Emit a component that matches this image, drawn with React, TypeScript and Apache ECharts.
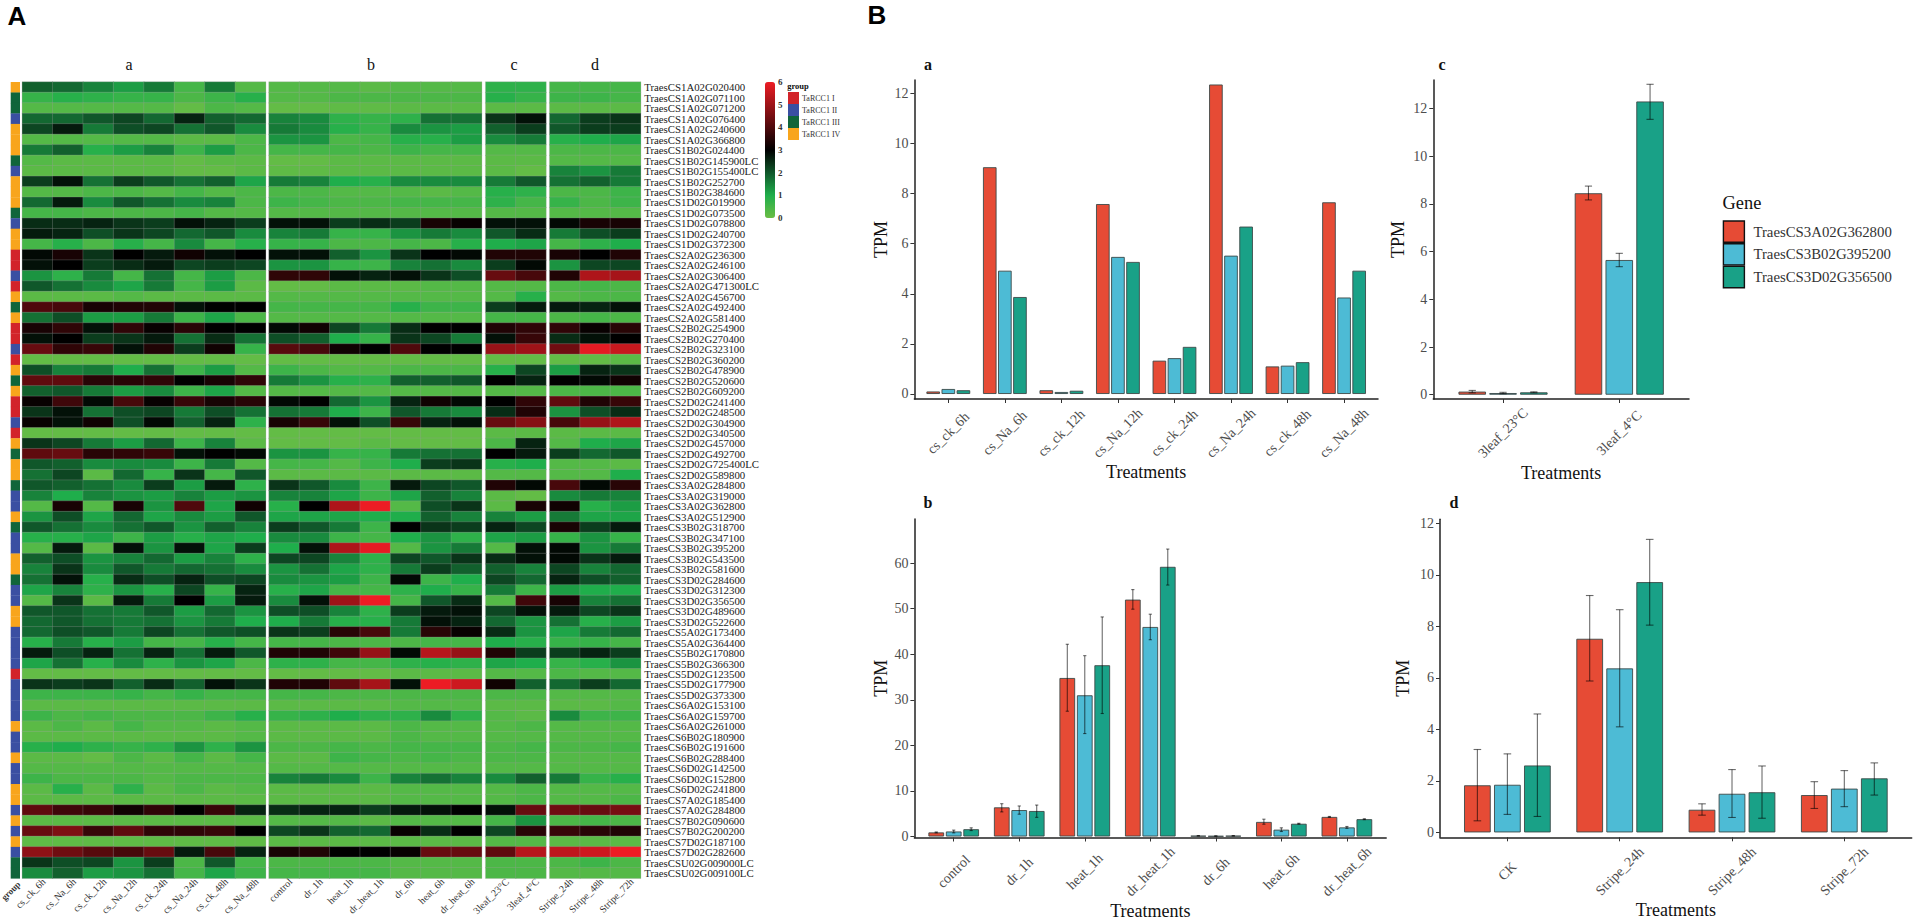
import React, { useEffect, useRef } from "react";
import * as echarts from "echarts";

const SERIF = "Liberation Serif";

const geneRows = [
  "TraesCS1A02G020400","TraesCS1A02G071100","TraesCS1A02G071200","TraesCS1A02G076400","TraesCS1A02G240600","TraesCS1A02G366800",
  "TraesCS1B02G024400","TraesCS1B02G145900LC","TraesCS1B02G155400LC","TraesCS1B02G252700","TraesCS1B02G384600","TraesCS1D02G019900",
  "TraesCS1D02G073500","TraesCS1D02G078800","TraesCS1D02G240700","TraesCS1D02G372300","TraesCS2A02G236300","TraesCS2A02G246100",
  "TraesCS2A02G306400","TraesCS2A02G471300LC","TraesCS2A02G456700","TraesCS2A02G492400","TraesCS2A02G581400","TraesCS2B02G254900",
  "TraesCS2B02G270400","TraesCS2B02G323100","TraesCS2B02G360200","TraesCS2B02G478900","TraesCS2B02G520600","TraesCS2B02G609200",
  "TraesCS2D02G241400","TraesCS2D02G248500","TraesCS2D02G304900","TraesCS2D02G340500","TraesCS2D02G457000","TraesCS2D02G492700",
  "TraesCS2D02G725400LC","TraesCS2D02G589800","TraesCS3A02G284800","TraesCS3A02G319000","TraesCS3A02G362800","TraesCS3A02G512900",
  "TraesCS3B02G318700","TraesCS3B02G347100","TraesCS3B02G395200","TraesCS3B02G543500","TraesCS3B02G581600","TraesCS3D02G284600",
  "TraesCS3D02G312300","TraesCS3D02G356500","TraesCS3D02G489600","TraesCS3D02G522600","TraesCS5A02G173400","TraesCS5A02G364400",
  "TraesCS5B02G170800","TraesCS5B02G366300","TraesCS5D02G123500","TraesCS5D02G177900","TraesCS5D02G373300","TraesCS6A02G153100",
  "TraesCS6A02G159700","TraesCS6A02G261000","TraesCS6B02G180900","TraesCS6B02G191600","TraesCS6B02G288400","TraesCS6D02G142500",
  "TraesCS6D02G152800","TraesCS6D02G241800","TraesCS7A02G185400","TraesCS7A02G284800","TraesCS7B02G090600","TraesCS7B02G200200",
  "TraesCS7D02G187100","TraesCS7D02G282600","TraesCSU02G009000LC","TraesCSU02G009100LC",
];

const groupNames = ["TaRCC1 I", "TaRCC1 II", "TaRCC1 III", "TaRCC1 IV"];
const groupColors = ["#d2232a", "#3a4fa2", "#10653a", "#f8a51c"];
// 1..4 = TaRCC1 I..IV, one per row
const rowGroups = [
  4,3,3,2,4,4,4,3,2,4,4,4,3,2,4,4,1,1,2,1,4,3,4,1,1,2,1,4,3,4,1,1,2,1,4,3,4,4,
  3,2,2,4,3,2,2,4,4,3,2,2,4,4,2,2,2,2,1,2,2,2,2,4,2,2,4,2,2,4,4,2,4,2,4,2,3,3,
];

const heatColsA = ["cs_ck_6h","cs_Na_6h","cs_ck_12h","cs_Na_12h","cs_ck_24h","cs_Na_24h","cs_ck_48h","cs_Na_48h"];
const heatColsB = ["control","dr_1h","heat_1h","dr_heat_1h","dr_6h","heat_6h","dr_heat_6h"];
const heatColsC = ["3leaf_23°C","3leaf_4°C"];
const heatColsD = ["Stripe_24h","Stripe_48h","Stripe_72h"];

// rows x (8 a + 7 b + 2 c + 3 d) columns
const heatValues: number[][] = [
  [1.9,1.8,1.5,1.2,1.6,.5,1.6,.3, .3,.3,.3,.2,.3,.3,.3, .8,.8, .5,.5,.5],
  [.7,.9,.8,.7,.7,.4,.6,.9, .3,.3,.4,.4,.4,.4,.4, .9,.7, .6,.6,.5],
  [.3,.3,.3,.3,.3,.1,.4,.3, .1,.1,.15,.15,.2,.2,.2, .2,.2, .2,.2,.2],
  [1.8,1.8,2,2.2,1.8,2.6,1.9,1.8, 1.5,1.4,.8,.7,.8,1.7,1.7, 2.4,2.8, 1.8,2.3,2.4],
  [2.2,2.7,1.6,2.1,2.2,1.7,2,1.4, 1.6,1.4,.9,.7,1.4,1.3,1.2, 1.9,2.3, 2,2.3,2.3],
  [.3,.3,.3,.3,.3,.2,.2,.4, 1.3,1.3,.4,.5,.9,.9,1.2, 1.4,1.6, .9,1,1.1],
  [1.6,1.9,.9,1.2,1.5,.6,1.2,.4, .5,.5,.5,.4,.6,.5,.5, .3,.3, .4,.4,.4],
  [.3,.2,.2,.2,.2,.1,.2,.2, .1,.1,.2,.2,.2,.2,.2, .2,.2, .3,.3,.3],
  [.2,.2,.2,.2,.2,.1,.1,.2, .15,.15,.2,.2,.2,.2,.2, .2,.1, 1.5,1.3,1.6],
  [2.3,2.8,1.7,2.3,2,1.7,1.9,1.1, 1.6,1.5,1,.9,1.4,1.4,1.4, 1.6,2, 1.7,1.9,1.6],
  [.3,.3,.4,.4,.3,.5,.3,.4, .4,.4,.3,.3,.3,.2,.3, .9,.8, .4,.4,.6],
  [1.8,2.7,1.4,2,1.7,1.4,1.5,.4, .6,.5,.4,.4,.5,.5,.5, .8,.5, .7,.4,.6],
  [.5,.5,.4,.4,.4,.5,.3,.3, .3,.3,.3,.3,.3,.3,.3, .3,.3, .3,.3,.3],
  [2.5,2.5,2.6,2.4,2.3,2.8,2.6,2.3, 2.8,2.8,2.3,2.5,2.3,3.3,3.1, 2.8,2.8, 2.9,3.3,3.3],
  [2.7,2.6,2.1,2.4,2.2,1.8,2,1.4, 1.5,1.6,.7,.7,1.3,1.6,1.4, 2,2.5, 1.6,2.1,2.3],
  [.5,.9,.4,.9,.5,1.4,.5,.9, .7,.7,.4,.4,.5,.4,.9, 1,1.1, .5,.8,1],
  [2.9,3.3,2.4,3,2.7,3.2,2.8,3, 2.8,2.8,1.9,1.3,2.4,3,2.9, 3.4,3.4, 3.3,3,3.4],
  [2.8,3,2.3,2.5,2.7,2.2,2.3,2.2, 1.3,1.3,.7,.6,1.5,1.7,1.4, 2.3,2.9, 1.3,2.2,2.2],
  [1.3,.8,1.6,.5,1.7,.5,1.2,.4, 3.6,3.6,2.8,2.6,2.8,2.4,2.1, 4.3,3.9, 3.4,5.2,5.1],
  [2,1.7,1.4,1.1,1.6,.5,1.2,.2, .1,.1,.2,.2,.2,.3,.3, .3,.3, .4,.5,.4],
  [.2,.2,.2,.3,.2,.2,.2,.2, .3,.3,.3,.3,.3,.3,.3, .3,.9, .3,.4,.4],
  [4,3.9,3.3,3.4,3.4,2.8,3,3, .5,.5,.5,.5,.9,.6,.6, 2.3,2.7, 2.7,2.6,2.8],
  [1.7,2.1,1.2,1.2,1.6,.6,1.1,.4, .3,.3,.3,.3,.3,.3,.3, .5,.5, .4,.5,.4],
  [3.3,3.6,2.8,3.6,3.1,3.5,3,3, 2.9,3.2,2.2,1.6,2.5,3,3, 3.4,3.6, 3.6,3.1,3.5],
  [2.8,3,2.3,2.4,2.7,1.7,2.5,1.7, 2.1,1.9,1,.7,2.4,2.2,1.6, 2.8,3.7, 2.5,2.8,3],
  [4.3,3.6,3.7,2.8,3.4,2.3,3.2,.7, 4.1,3.9,3.2,3,4,3,3, 4.9,5, 4.4,5.9,5.5],
  [.1,.1,.1,.1,.1,.1,.1,.1, .1,.1,.1,.1,.1,.1,.1, .1,.1, .1,.1,.2],
  [2.1,1.5,1.6,1,1.7,.6,1.2,.3, .6,.4,.3,.3,.4,.4,.4, .9,2.2, 1.2,2.6,2.4],
  [4.2,4.2,3.5,3.5,3.6,3,3.3,3.6, 1.6,1.3,.9,.8,1.9,1.9,2, 3,2.6, 3,2.9,3.2],
  [1.9,2,1.6,1.2,1.4,.6,1.1,.3, .3,.3,.3,.3,.3,.3,.3, .3,.3, .4,.4,.4],
  [3.1,3.8,2.9,3.9,3.1,3.7,3.3,3.5, 2.9,3,1.8,1.3,2.6,3.2,2.9, 3,3.6, 4.2,3.4,3.7],
  [2.4,2.8,1.7,2.1,2.2,1.6,2.1,1.7, 1.7,1.6,1,.6,2,1.6,1.4, 2.5,3.4, 1.3,2.1,2.5],
  [3.1,2.8,3.2,2.1,2.9,1.9,2.6,.8, 3.3,3.7,2.8,2.1,3.7,2.6,2.8, 4.3,4.7, 3.9,4.9,5.2],
  [.1,.1,.1,.1,.1,.1,.1,.1, .1,.1,.1,.1,.1,.1,.1, .2,.2, .2,.2,.2],
  [2.4,2.2,1.6,1.2,1.8,.6,1.5,.2, .1,.1,.1,.2,.1,.1,.1, .4,2.6, .3,1,1.1],
  [4.2,4.3,3.5,3.6,3.7,2.8,3,2.9, 1.3,1.3,.7,.7,1.6,1.7,1.7, 3,2.7, 2.3,1.8,2],
  [2,1.9,1.4,1.4,1.4,.6,1.6,.3, .5,.5,.3,.6,1,2.3,2.4, .9,1, .3,.3,.2],
  [1.7,2.2,.2,1.8,.7,2.4,.5,2, .2,.2,.2,.2,.2,.2,.2, .3,.3, .3,.3,1],
  [2,1.9,1.7,1.4,2.3,1.2,2.7,.8, 2.4,2,1.4,.6,2.7,2.2,2, 3.4,2.9, 3.9,2.9,3.5],
  [1.5,1,1.5,1.3,1.2,1.5,1.2,1.3, 1.5,1.5,1.1,.6,1.1,1.9,1.5, .2,.1, 1.4,1.6,1.5],
  [.3,3.3,.3,3.3,1.3,4,1.1,3.2, .9,3,5.2,6,.3,2.1,2.4, .2,3.3, 3.2,.9,1.2],
  [1.3,2.1,1.1,1.8,1.1,1.4,1.2,2, 1.1,1.1,1.1,1,1,1.9,1.5, 1.5,1.2, 1.6,1.1,1.1],
  [2,1.7,1.4,1.7,2,1.3,1.9,1.5, 2.3,2,1.6,.6,3,2.4,2.3, 2.6,2.2, 3.3,2.3,2.7],
  [.9,.9,1.1,.6,1.2,.9,1.1,1, 1.4,1.4,.6,.5,1,1.3,.8, 1.1,1.2, .7,1.3,.7],
  [.3,2.7,.2,2.8,1.3,2.8,1.1,2.3, 1,2.8,5.2,5.9,.3,1.3,1.6, .3,2.8, 2.9,1.3,1.6],
  [1.9,2.1,1.3,1.5,1.8,1.2,1.5,.8, 2.2,2.2,1.5,.8,2.2,2,2.4, 2.5,2.8, 2.9,2.4,2.7],
  [1.5,2.4,1.4,2,1.6,1.8,1.7,1.4, 1.3,1.7,1.1,.8,1.6,2.3,1.9, 1.9,1.5, 2.2,1.5,1.8],
  [1.7,2.8,.9,2.5,2.1,2.6,2.1,2.2, 1.4,1.3,1.2,.6,2.9,.6,1, 2.2,1.8, 2.6,2.1,1.9],
  [1.1,1.5,.8,1.3,.9,2.2,.7,2.6, .9,1.1,.5,.5,.8,1,.7, 1.6,.6, 1.2,1,1],
  [.3,2.4,.2,2.7,1.6,3,1.2,2.7, 1.4,2.8,5,6,.5,2,2.5, .3,3.8, 3.3,1.5,1.7],
  [2,2,1.7,1.6,2,1.2,1.8,1.3, 2.1,2.1,1.5,.8,2.3,2.7,2.8, 2.2,2.8, 2.7,2.2,2.4],
  [1.8,2,1.7,1.6,1.7,1.3,1.6,1, 1,1.6,.9,.9,1.6,2.8,2.6, 1.8,1.3, 1.7,.9,1.2],
  [1.8,2.1,2,1.6,2.2,1.7,2,2.1, 2.4,2.3,3.5,3.9,1.6,3.5,3.1, 2.5,1.3, 1.1,1.6,1.8],
  [.9,1.6,.9,1.2,.5,.5,.9,.5, .5,.5,.4,.4,.4,.5,.5, 1,.9, .7,.7,.5],
  [2.7,2.1,2.6,1.7,2.6,1.7,2.7,2, 3.4,3.4,3.8,4.9,2.9,5.3,4.9, 3.4,2.3, 2.3,2.6,2.3],
  [1.1,1.7,.9,1.4,.8,1.3,1.1,.4, .8,.8,.5,.5,.8,.9,.8, 1.1,1, .7,.9,1.3],
  [.1,.1,.1,.1,.1,.1,.1,.1, .1,.1,.1,.1,.2,.2,.2, .3,.3, .4,.3,.3],
  [2.4,2.3,2.4,1.9,2.5,1.9,2.8,2.4, 3.4,3.4,4.2,5.1,2.8,6,5.6, 3.2,1.9, 1.8,2.3,1.8],
  [.6,.6,.6,.7,.5,.7,.5,.5, .5,.5,.4,.4,.4,.4,.4, .4,.4, .3,.3,.3],
  [.2,.2,.2,.2,.2,.2,.2,.2, .2,.2,.2,.2,.3,.3,.3, .2,.2, .2,.2,.3],
  [.6,.4,.5,.4,.4,.4,.6,.9, .7,.8,1,.8,.8,1.4,.8, .3,.2, 1.4,.6,.6],
  [.2,.4,.2,.5,.3,.3,.2,.3, .2,.2,.2,.2,.4,.3,.3, .3,.4, .3,.3,.3],
  [.2,.2,.2,.2,.2,.2,.2,.3, .2,.2,.2,.2,.4,.3,.3, .3,.3, .3,.3,.3],
  [.9,1,.8,.7,.8,1.3,.8,1.3, .4,.4,.5,.4,.5,.5,.5, .4,.5, .4,.4,.5],
  [.2,.2,.1,.4,.2,.5,.2,.5, .2,.2,.6,.5,.4,.5,.4, .4,.4, .3,.3,.3],
  [.3,.3,.3,.3,.3,.3,.3,.3, .3,.3,.3,.3,.3,.3,.3, .3,.3, .3,.3,.3],
  [.6,.4,.4,.4,.3,.4,.4,.4, 1.5,1.6,1.4,.6,1.5,1.7,1.5, 1.4,1.9, 1.6,.7,.9],
  [.2,.9,.2,.8,.2,.4,.2,.3, .2,.2,.2,.2,.3,.3,.3, .3,.4, .3,.3,.3],
  [.2,.2,.2,.2,.2,.2,.2,.2, .2,.2,.2,.2,.3,.3,.3, .3,.4, .3,.3,.4],
  [4.2,3.8,3.7,3.2,3.6,3,3.7,2.6, 2.5,2.6,2.6,2.3,2.7,2.8,3, 2.8,4.3, 4.4,4.3,4.5],
  [.2,.2,.2,.2,.2,.2,.2,.2, .3,.3,.3,.2,.3,.3,.3, .5,1.3, .4,.5,.4],
  [4.3,4.6,3.7,4.2,3.6,3.6,3.7,3, 2.2,2.4,1.9,1.8,3.1,2.5,3, 2.2,3.5, 3.7,3.5,3.4],
  [.15,.15,.15,.15,.15,.15,.15,.15, .2,.2,.2,.2,.2,.2,.2, .3,.3, .2,.2,.2],
  [4.8,4.4,4.1,3.9,4.3,2.7,3.9,2.6, 3.3,3.4,3,3,3.1,4.3,4.3, 4.2,5.3, 5.4,5.6,6],
  [2.4,2.1,2.2,1.3,2.3,.4,2,.5, .4,.4,.4,.4,.3,.3,.3, .4,.4, .4,.6,.4],
  [1.4,1.9,1.2,1.3,1.7,.5,1.1,.6, .5,.5,.5,.5,.3,.3,.3, .4,.4, .3,.3,.3],
];

const colorStops = ["#6abd45", "#1fae4b", "#10572a", "#000000", "#4f090c", "#9e1318", "#ed1c24"];

const genes = ["TraesCS3A02G362800", "TraesCS3B02G395200", "TraesCS3D02G356500"];
const geneColors = ["#E64B35", "#4DBBD5", "#19A187"];

const catsA = ["cs_ck_6h","cs_Na_6h","cs_ck_12h","cs_Na_12h","cs_ck_24h","cs_Na_24h","cs_ck_48h","cs_Na_48h"];
const valuesA = [
  [0.1, 9.05, 0.15, 7.58, 1.33, 12.35, 1.1, 7.65],
  [0.2, 4.92, 0.08, 5.47, 1.43, 5.52, 1.13, 3.85],
  [0.15, 3.87, 0.13, 5.27, 1.88, 6.68, 1.27, 4.92],
];

const catsB = ["control","dr_1h","heat_1h","dr_heat_1h","dr_6h","heat_6h","dr_heat_6h"];
const valuesB = [
  [0.9, 6.4, 34.8, 52, 0.15, 3.2, 4.3],
  [1.1, 5.8, 31, 46, 0.1, 1.5, 2],
  [1.6, 5.6, 37.6, 59.2, 0.15, 2.8, 3.8],
];
const lowB = [
  [0.8, 5.4, 27.5, 49.9, 0.1, 2.7, 4.2],
  [0.8, 4.9, 22.6, 43.2, 0.05, 1.1, 1.8],
  [1.3, 4.2, 27, 55.2, 0.1, 2.7, 3.7],
];
const highB = [
  [1.0, 7.2, 42.2, 54.2, 0.2, 3.8, 4.4],
  [1.4, 6.7, 39.7, 48.8, 0.15, 1.9, 2.2],
  [1.9, 6.9, 48.2, 63.1, 0.2, 2.9, 3.9],
];

const catsC = ["3leaf_23°C", "3leaf_4°C"];
const valuesC = [
  [0.13, 8.45],
  [0.07, 5.65],
  [0.1, 12.3],
];
const lowC = [
  [0.08, 8.17],
  [0.04, 5.37],
  [0.08, 11.55],
];
const highC = [
  [0.18, 8.75],
  [0.1, 5.93],
  [0.12, 13.02],
];

const catsD = ["CK", "Stripe_24h", "Stripe_48h", "Stripe_72h"];
const valuesD = [
  [1.83, 7.52, 0.88, 1.45],
  [1.85, 6.37, 1.5, 1.7],
  [2.6, 9.72, 1.56, 2.1],
];
const lowD = [
  [0.45, 5.88, 0.67, 0.93],
  [0.7, 4.1, 0.58, 1.0],
  [0.62, 8.05, 0.55, 1.45],
];
const highD = [
  [3.22, 9.2, 1.11, 1.97],
  [3.05, 8.65, 2.44, 2.4],
  [4.6, 11.38, 2.58, 2.7],
];

const colorbarTicks = [0, 1, 2, 3, 4, 5, 6];

function buildOption() {
  const grids: any[] = [];
  const xAxes: any[] = [];
  const yAxes: any[] = [];
  const series: any[] = [];

  const heatTop = 82;
  const heatHeight = 796.3;
  const rect = (l: number, r: number, t: number, h: number) => ({
    left: l, top: t, width: r - l, height: h, containLabel: false, outerBoundsMode: "none",
  });

  const heatLabel = {
    rotate: 45, interval: 0, margin: 8, padding: [0, -9, 0, 0], fontFamily: SERIF, fontSize: 10, color: "#333",
  };

  const addHeatAxes = (l: number, r: number, cats: string[], showRows: boolean) => {
    const idx = grids.length;
    grids.push(rect(l, r, heatTop, heatHeight));
    xAxes.push({
      type: "category", gridIndex: idx, data: cats, position: "bottom",
      axisLine: { show: false }, axisTick: { show: false }, splitLine: { show: false },
      axisLabel: heatLabel,
    });
    yAxes.push({
      type: "category", gridIndex: idx, data: geneRows, inverse: true, position: "right",
      axisLine: { show: false }, axisTick: { show: false }, splitLine: { show: false },
      axisLabel: { show: showRows, interval: 0, margin: 3.5, fontFamily: SERIF, fontSize: 10.8, color: "#222" },
    });
    return idx;
  };

  // group column: one coloured strip per row
  const gGroup = addHeatAxes(10.7, 20, ["group"], false);
  xAxes[gGroup] = {
    type: "value", gridIndex: gGroup, position: "bottom", min: -0.5, max: 0.5,
    axisLine: { show: false, onZero: false }, axisTick: { show: false }, splitLine: { show: false },
    axisLabel: {
      ...heatLabel, fontSize: 9, fontWeight: "bold", customValues: [0],
      margin: 8, padding: [0, -5, 0, 0], formatter: () => "group",
    },
  };
  const groupSeriesIndex = series.length;
  series.push({
    type: "custom", xAxisIndex: gGroup, yAxisIndex: gGroup, encode: { x: 0, y: 1 },
    data: rowGroups.map((g, r) => [0, r, g]),
    renderItem: (_: any, api: any) => {
      const r = api.value(1);
      const a = api.coord([-0.5, r]);
      const b = api.coord([0.5, r]);
      const h = api.size([0, 1])[1];
      return {
        type: "rect",
        shape: { x: a[0], y: a[1] - h / 2, width: b[0] - a[0], height: h + 0.3 },
        style: { fill: api.visual("color") },
      };
    },
  });

  const panels: [number, number, string[], number, boolean][] = [
    [22.3, 265.7, heatColsA, 0, false],
    [269, 481.7, heatColsB, 8, false],
    [485.7, 546, heatColsC, 15, false],
    [549.7, 640.7, heatColsD, 17, true],
  ];
  const heatSeriesIndex: number[] = [];
  panels.forEach(([l, r, cats, offset, showRows]) => {
    const g = addHeatAxes(l, r, cats, showRows);
    const data: number[][] = [];
    heatValues.forEach((row, ri) => cats.forEach((_, ci) => data.push([ci, ri, row[offset + ci]])));
    heatSeriesIndex.push(series.length);
    series.push({
      type: "heatmap", xAxisIndex: g, yAxisIndex: g, progressive: 0, data,
      itemStyle: { borderColor: "rgba(160,160,160,0.55)", borderWidth: 0.5 },
    });
  });

  // colourbar axis
  const gBar = grids.length;
  grids.push(rect(765, 775, 82, 136));
  xAxes.push({ type: "value", gridIndex: gBar, show: false, min: 0, max: 1 });
  yAxes.push({
    type: "value", gridIndex: gBar, position: "right", min: 0, max: 6, interval: 1,
    axisLine: { show: false }, axisTick: { show: false }, splitLine: { show: false },
    axisLabel: {
      margin: 3, fontFamily: SERIF, fontSize: 9, color: "#333", fontWeight: "bold",
      customValues: colorbarTicks,
    },
  });

  const addBars = (cfg: {
    l: number; r: number; t: number; b: number; cats: string[]; values: number[][];
    low?: number[][]; high?: number[][]; ymin: number; ymax: number; ticks: number[];
    barWidth: number; step: number; cap: number; nameGap: number;
  }) => {
    const idx = grids.length;
    grids.push(rect(cfg.l, cfg.r, cfg.t, cfg.b - cfg.t));
    const positions = cfg.cats.map((_, i) => i);
    xAxes.push({
      type: "value", gridIndex: idx, position: "bottom",
      min: -0.6, max: cfg.cats.length - 1 + 0.6,
      name: "Treatments", nameLocation: "middle", nameGap: 63,
      nameTextStyle: { fontFamily: SERIF, fontSize: 18, color: "#111" },
      axisLine: { onZero: false, lineStyle: { color: "#222", width: 1.5 } },
      axisTick: { length: 4, lineStyle: { color: "#333", width: 1 }, customValues: positions },
      splitLine: { show: false },
      axisLabel: {
        customValues: positions, rotate: 45, align: "center", verticalAlign: "middle", margin: 34,
        fontFamily: SERIF, fontSize: 14, color: "#4d4d4d",
        formatter: (v: number) => cfg.cats[Math.round(v)],
      },
    });
    yAxes.push({
      type: "value", gridIndex: idx, position: "left", min: cfg.ymin, max: cfg.ymax,
      name: "TPM", nameLocation: "middle", nameGap: cfg.nameGap,
      nameTextStyle: { fontFamily: SERIF, fontSize: 18, color: "#111" },
      axisLine: { show: true, onZero: false, lineStyle: { color: "#222", width: 1.5 } },
      axisTick: { show: true, length: 4, lineStyle: { color: "#333", width: 1 }, customValues: cfg.ticks },
      splitLine: { show: false },
      axisLabel: { customValues: cfg.ticks, margin: 6, fontFamily: SERIF, fontSize: 14, color: "#4d4d4d" },
    });
    const gap = ((cfg.step - cfg.barWidth) / cfg.barWidth) * 100 + "%";
    genes.forEach((name, g) => {
      series.push({
        type: "bar", name, xAxisIndex: idx, yAxisIndex: idx, barWidth: cfg.barWidth, barGap: gap,
        data: cfg.values[g].map((v, i) => [i, v]),
        itemStyle: { color: geneColors[g], borderColor: "#3c4a48", borderWidth: 0.9 },
      });
    });
    if (cfg.low && cfg.high) {
      genes.forEach((name, g) => {
        series.push({
          type: "custom", name: name + " error", xAxisIndex: idx, yAxisIndex: idx, z: 5,
          encode: { x: 0, y: [1, 2] },
          data: cfg.low![g].map((lo, i) => [i, lo, cfg.high![g][i]]),
          renderItem: (_: any, api: any) => {
            const i = api.value(0);
            const a = api.coord([i, api.value(1)]);
            const b = api.coord([i, api.value(2)]);
            const cx = a[0] + (g - 1) * cfg.step;
            const style = { stroke: "rgba(0,0,0,0.58)", lineWidth: 1.1, fill: "none" };
            const seg = (x1: number, y1: number, x2: number, y2: number) => ({
              type: "line", shape: { x1, y1, x2, y2 }, style,
            });
            return {
              type: "group",
              children: [
                seg(cx, a[1], cx, b[1]),
                seg(cx - cfg.cap, a[1], cx + cfg.cap, a[1]),
                seg(cx - cfg.cap, b[1], cx + cfg.cap, b[1]),
              ],
            };
          },
        });
      });
    }
  };

  addBars({ l: 914.4, r: 1378, t: 80, b: 399, cats: catsA, values: valuesA, ymin: -0.2, ymax: 12.53, ticks: [0,2,4,6,8,10,12], barWidth: 13.6, step: 15.1, cap: 2, nameGap: 24 });
  addBars({ l: 1433.3, r: 1689, t: 80, b: 399, cats: catsC, values: valuesC, low: lowC, high: highC, ymin: -0.18, ymax: 13.2, ticks: [0,2,4,6,8,10,12], barWidth: 27.5, step: 30.8, cap: 3.6, nameGap: 26 });
  addBars({ l: 914.4, r: 1386.2, t: 519, b: 837.5, cats: catsB, values: valuesB, low: lowB, high: highB, ymin: -0.22, ymax: 69.7, ticks: [0,10,20,30,40,50,60], barWidth: 15.7, step: 17.47, cap: 1.6, nameGap: 24 });
  addBars({ l: 1440, r: 1911.7, t: 519.3, b: 837.3, cats: catsD, values: valuesD, low: lowD, high: highD, ymin: -0.19, ymax: 12.16, ticks: [0,2,4,6,8,10,12], barWidth: 26.7, step: 30, cap: 3.8, nameGap: 28 });

  const text = (x: number, y: number, t: string, fontSize: number, fontWeight = "normal", fontFamily = SERIF, fill = "#111") => ({
    type: "text", x, y,
    style: { text: t, fontSize, fontWeight, fontFamily, fill, textAlign: "center", textVerticalAlign: "middle" },
  });

  return {
    animation: false,
    backgroundColor: "#ffffff",
    grid: grids,
    xAxis: xAxes,
    yAxis: yAxes,
    series,
    legend: {
      data: genes, orient: "vertical", left: 1722.7, top: 220.3, padding: 0, itemGap: 0,
      itemWidth: 21, itemHeight: 21.3, selectedMode: false, icon: "rect",
      itemStyle: { borderColor: "#111", borderWidth: 1.4 },
      textStyle: { fontFamily: SERIF, fontSize: 14.8, color: "#333", padding: [0, 0, 0, 4] },
    },
    visualMap: [
      {
        type: "continuous", seriesIndex: heatSeriesIndex, min: 0, max: 6, dimension: 2,
        left: 765, top: 82, itemWidth: 10, itemHeight: 136, padding: 0, calculable: false,
        inRange: { color: colorStops }, hoverLink: false, realtime: false,
      },
      {
        type: "piecewise", seriesIndex: groupSeriesIndex, dimension: 2, orient: "vertical", inverse: true,
        left: 788, top: 92, padding: 0, itemWidth: 11, itemHeight: 12, itemGap: 0, textGap: 3,
        selectedMode: false, itemSymbol: "rect",
        textStyle: { fontFamily: SERIF, fontSize: 8, color: "#333" },
        pieces: groupNames.map((label, i) => ({ value: i + 1, label, color: groupColors[i] })),
      },
    ],
    graphic: [
      text(17, 16, "A", 26, "bold", "Liberation Sans", "#000"),
      text(877, 15, "B", 26, "bold", "Liberation Sans", "#000"),
      text(129, 64, "a", 16),
      text(371, 64, "b", 16),
      text(514, 64, "c", 16),
      text(595, 64, "d", 16),
      text(798, 85.5, "group", 8.5, "bold"),
      text(928, 64, "a", 16, "bold"),
      text(1442, 64, "c", 16, "bold"),
      text(928, 502, "b", 16, "bold"),
      text(1454, 502, "d", 16, "bold"),
      text(1742, 203, "Gene", 18.4),
    ],
  };
}

export default function App() {
  const ref = useRef<HTMLDivElement>(null);
  useEffect(() => {
    document.body.style.margin = "0";
    const chart = echarts.init(ref.current!, undefined, { renderer: "svg" });
    chart.setOption(buildOption() as any);
    return () => chart.dispose();
  }, []);
  return <div ref={ref} style={{ position: "fixed", left: 0, top: 0, width: 1913, height: 920, background: "#fff" }} />;
}
